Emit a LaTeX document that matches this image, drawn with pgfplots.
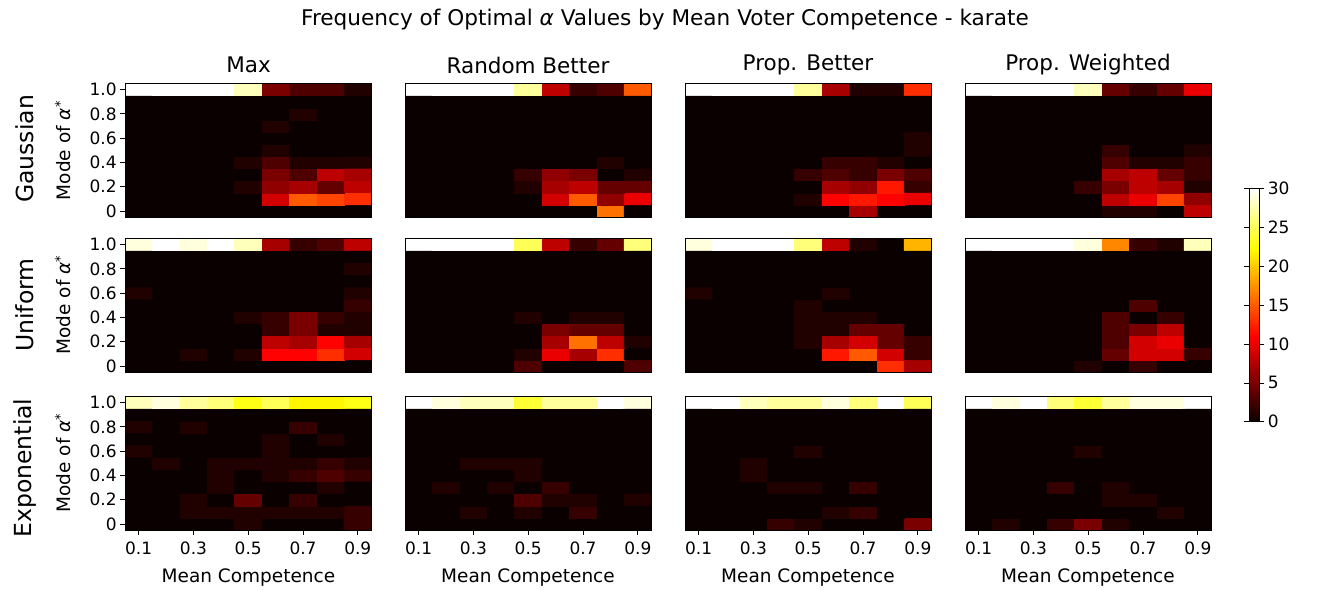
\documentclass[border=0pt]{standalone}
\usepackage{fontspec}
\setmainfont{DejaVu Sans}
\usepackage{pgfplots}
\pgfplotsset{compat=1.18}
\definecolor{hotzero}{rgb}{0.0416,0,0}
\pgfplotsset{
  colormap={mplhot}{rgb(0pt)=(0.0416,0,0); rgb(36.5079pt)=(1,0,0); rgb(74.6032pt)=(1,1,0); rgb(100pt)=(1,1,1)},
  hm/.style={
    scale only axis, width=246.5bp, height=133.5bp,
    anchor=south west, axis on top,
    axis background/.style={fill=hotzero},
    xmin=0.05, xmax=0.95, ymin=-0.05, ymax=1.05,
    colormap name=mplhot, point meta min=0, point meta max=30,
    axis line style={black, line width=0.8bp},
    tick align=outside, major tick length=4.9bp,
    tick style={black, line width=0.8bp},
    xtick pos=bottom, ytick pos=left,
    xtick=\empty, ytick=\empty,
    /pgf/number format/assume math mode=true,
    tick label style={font=\fontsize{17bp}{20bp}\selectfont},
    xticklabel style={yshift=-3bp},
  },
  ylab/.style={ytick={0,0.2,0.4,0.6,0.8,1.0}, yticklabels={0,0.2,0.4,0.6,0.8,1.0}},
  xlab/.style={xtick={0.1,0.3,0.5,0.7,0.9}, xticklabels={0.1,0.3,0.5,0.7,0.9}},
  hmplot/.style={matrix plot*, mesh/cols=9, point meta=explicit},
  table/hmtab/.style={x index=0, y index=1, meta index=2, header=false, row sep=\\},
}
\newcommand{\tfont}{\fontsize{21.6bp}{25bp}\selectfont}
\newcommand{\cfont}{\fontsize{21.5bp}{25bp}\selectfont}
\newcommand{\lfont}{\fontsize{18.5bp}{21bp}\selectfont}
\newcommand{\rfont}{\fontsize{23.5bp}{27bp}\selectfont}
\begin{document}
\begin{tikzpicture}
\path[use as bounding box] (0,0) rectangle (1329bp,590bp);
% ===== Row 1: Gaussian =====
\begin{axis}[hm, ylab, at={(125bp,373bp)}]
\addplot[hmplot] table[hmtab] {
0.1 0 0\\0.2 0 0\\0.3 0 0\\0.4 0 0\\0.5 0 0\\0.6 0 0\\0.7 0 0\\0.8 0 0\\0.9 0 0\\
0.1 0.1 0\\0.2 0.1 0\\0.3 0.1 0\\0.4 0.1 0\\0.5 0.1 0\\0.6 0.1 9\\0.7 0.1 15\\0.8 0.1 14\\0.9 0.1 13\\
0.1 0.2 0\\0.2 0.2 0\\0.3 0.2 0\\0.4 0.2 0\\0.5 0.2 1\\0.6 0.2 6\\0.7 0.2 7\\0.8 0.2 4\\0.9 0.2 8\\
0.1 0.3 0\\0.2 0.3 0\\0.3 0.3 0\\0.4 0.3 0\\0.5 0.3 0\\0.6 0.3 5\\0.7 0.3 3\\0.8 0.3 8\\0.9 0.3 7\\
0.1 0.4 0\\0.2 0.4 0\\0.3 0.4 0\\0.4 0.4 0\\0.5 0.4 1\\0.6 0.4 3\\0.7 0.4 1\\0.8 0.4 1\\0.9 0.4 1\\
0.1 0.5 0\\0.2 0.5 0\\0.3 0.5 0\\0.4 0.5 0\\0.5 0.5 0\\0.6 0.5 1\\0.7 0.5 0\\0.8 0.5 0\\0.9 0.5 0\\
0.1 0.6 0\\0.2 0.6 0\\0.3 0.6 0\\0.4 0.6 0\\0.5 0.6 0\\0.6 0.6 0\\0.7 0.6 0\\0.8 0.6 0\\0.9 0.6 0\\
0.1 0.7 0\\0.2 0.7 0\\0.3 0.7 0\\0.4 0.7 0\\0.5 0.7 0\\0.6 0.7 1\\0.7 0.7 0\\0.8 0.7 0\\0.9 0.7 0\\
0.1 0.8 0\\0.2 0.8 0\\0.3 0.8 0\\0.4 0.8 0\\0.5 0.8 0\\0.6 0.8 0\\0.7 0.8 1\\0.8 0.8 0\\0.9 0.8 0\\
0.1 0.9 0\\0.2 0.9 0\\0.3 0.9 0\\0.4 0.9 0\\0.5 0.9 0\\0.6 0.9 0\\0.7 0.9 0\\0.8 0.9 0\\0.9 0.9 0\\
0.1 1.0 30\\0.2 1.0 30\\0.3 1.0 30\\0.4 1.0 30\\0.5 1.0 28\\0.6 1.0 5\\0.7 1.0 3\\0.8 1.0 3\\0.9 1.0 1\\
};
\end{axis}
\begin{axis}[hm, at={(405bp,373bp)}]
\addplot[hmplot] table[hmtab] {
0.1 0 0\\0.2 0 0\\0.3 0 0\\0.4 0 0\\0.5 0 0\\0.6 0 0\\0.7 0 0\\0.8 0 16\\0.9 0 0\\
0.1 0.1 0\\0.2 0.1 0\\0.3 0.1 0\\0.4 0.1 0\\0.5 0.1 0\\0.6 0.1 9\\0.7 0.1 15\\0.8 0.1 6\\0.9 0.1 10\\
0.1 0.2 0\\0.2 0.2 0\\0.3 0.2 0\\0.4 0.2 0\\0.5 0.2 1\\0.6 0.2 7\\0.7 0.2 8\\0.8 0.2 4\\0.9 0.2 4\\
0.1 0.3 0\\0.2 0.3 0\\0.3 0.3 0\\0.4 0.3 0\\0.5 0.3 2\\0.6 0.3 6\\0.7 0.3 5\\0.8 0.3 0\\0.9 0.3 1\\
0.1 0.4 0\\0.2 0.4 0\\0.3 0.4 0\\0.4 0.4 0\\0.5 0.4 0\\0.6 0.4 0\\0.7 0.4 0\\0.8 0.4 1\\0.9 0.4 0\\
0.1 0.5 0\\0.2 0.5 0\\0.3 0.5 0\\0.4 0.5 0\\0.5 0.5 0\\0.6 0.5 0\\0.7 0.5 0\\0.8 0.5 0\\0.9 0.5 0\\
0.1 0.6 0\\0.2 0.6 0\\0.3 0.6 0\\0.4 0.6 0\\0.5 0.6 0\\0.6 0.6 0\\0.7 0.6 0\\0.8 0.6 0\\0.9 0.6 0\\
0.1 0.7 0\\0.2 0.7 0\\0.3 0.7 0\\0.4 0.7 0\\0.5 0.7 0\\0.6 0.7 0\\0.7 0.7 0\\0.8 0.7 0\\0.9 0.7 0\\
0.1 0.8 0\\0.2 0.8 0\\0.3 0.8 0\\0.4 0.8 0\\0.5 0.8 0\\0.6 0.8 0\\0.7 0.8 0\\0.8 0.8 0\\0.9 0.8 0\\
0.1 0.9 0\\0.2 0.9 0\\0.3 0.9 0\\0.4 0.9 0\\0.5 0.9 0\\0.6 0.9 0\\0.7 0.9 0\\0.8 0.9 0\\0.9 0.9 0\\
0.1 1.0 30\\0.2 1.0 30\\0.3 1.0 30\\0.4 1.0 30\\0.5 1.0 27\\0.6 1.0 8\\0.7 1.0 2\\0.8 1.0 3\\0.9 1.0 15\\
};
\end{axis}
\begin{axis}[hm, at={(685bp,373bp)}]
\addplot[hmplot] table[hmtab] {
0.1 0 0\\0.2 0 0\\0.3 0 0\\0.4 0 0\\0.5 0 0\\0.6 0 0\\0.7 0 7\\0.8 0 0\\0.9 0 0\\
0.1 0.1 0\\0.2 0.1 0\\0.3 0.1 0\\0.4 0.1 0\\0.5 0.1 1\\0.6 0.1 11\\0.7 0.1 12\\0.8 0.1 11\\0.9 0.1 10\\
0.1 0.2 0\\0.2 0.2 0\\0.3 0.2 0\\0.4 0.2 0\\0.5 0.2 0\\0.6 0.2 7\\0.7 0.2 6\\0.8 0.2 12\\0.9 0.2 2\\
0.1 0.3 0\\0.2 0.3 0\\0.3 0.3 0\\0.4 0.3 0\\0.5 0.3 2\\0.6 0.3 3\\0.7 0.3 2\\0.8 0.3 5\\0.9 0.3 3\\
0.1 0.4 0\\0.2 0.4 0\\0.3 0.4 0\\0.4 0.4 0\\0.5 0.4 0\\0.6 0.4 2\\0.7 0.4 2\\0.8 0.4 1\\0.9 0.4 0\\
0.1 0.5 0\\0.2 0.5 0\\0.3 0.5 0\\0.4 0.5 0\\0.5 0.5 0\\0.6 0.5 0\\0.7 0.5 0\\0.8 0.5 0\\0.9 0.5 1\\
0.1 0.6 0\\0.2 0.6 0\\0.3 0.6 0\\0.4 0.6 0\\0.5 0.6 0\\0.6 0.6 0\\0.7 0.6 0\\0.8 0.6 0\\0.9 0.6 1\\
0.1 0.7 0\\0.2 0.7 0\\0.3 0.7 0\\0.4 0.7 0\\0.5 0.7 0\\0.6 0.7 0\\0.7 0.7 0\\0.8 0.7 0\\0.9 0.7 0\\
0.1 0.8 0\\0.2 0.8 0\\0.3 0.8 0\\0.4 0.8 0\\0.5 0.8 0\\0.6 0.8 0\\0.7 0.8 0\\0.8 0.8 0\\0.9 0.8 0\\
0.1 0.9 0\\0.2 0.9 0\\0.3 0.9 0\\0.4 0.9 0\\0.5 0.9 0\\0.6 0.9 0\\0.7 0.9 0\\0.8 0.9 0\\0.9 0.9 0\\
0.1 1.0 30\\0.2 1.0 30\\0.3 1.0 30\\0.4 1.0 30\\0.5 1.0 27\\0.6 1.0 7\\0.7 1.0 1\\0.8 1.0 1\\0.9 1.0 13\\
};
\end{axis}
\begin{axis}[hm, at={(965bp,373bp)}]
\addplot[hmplot] table[hmtab] {
0.1 0 0\\0.2 0 0\\0.3 0 0\\0.4 0 0\\0.5 0 0\\0.6 0 1\\0.7 0 1\\0.8 0 0\\0.9 0 8\\
0.1 0.1 0\\0.2 0.1 0\\0.3 0.1 0\\0.4 0.1 0\\0.5 0.1 0\\0.6 0.1 8\\0.7 0.1 10\\0.8 0.1 14\\0.9 0.1 6\\
0.1 0.2 0\\0.2 0.2 0\\0.3 0.2 0\\0.4 0.2 0\\0.5 0.2 2\\0.6 0.2 5\\0.7 0.2 8\\0.8 0.2 7\\0.9 0.2 1\\
0.1 0.3 0\\0.2 0.3 0\\0.3 0.3 0\\0.4 0.3 0\\0.5 0.3 0\\0.6 0.3 7\\0.7 0.3 8\\0.8 0.3 4\\0.9 0.3 2\\
0.1 0.4 0\\0.2 0.4 0\\0.3 0.4 0\\0.4 0.4 0\\0.5 0.4 0\\0.6 0.4 3\\0.7 0.4 1\\0.8 0.4 1\\0.9 0.4 2\\
0.1 0.5 0\\0.2 0.5 0\\0.3 0.5 0\\0.4 0.5 0\\0.5 0.5 0\\0.6 0.5 2\\0.7 0.5 0\\0.8 0.5 0\\0.9 0.5 1\\
0.1 0.6 0\\0.2 0.6 0\\0.3 0.6 0\\0.4 0.6 0\\0.5 0.6 0\\0.6 0.6 0\\0.7 0.6 0\\0.8 0.6 0\\0.9 0.6 0\\
0.1 0.7 0\\0.2 0.7 0\\0.3 0.7 0\\0.4 0.7 0\\0.5 0.7 0\\0.6 0.7 0\\0.7 0.7 0\\0.8 0.7 0\\0.9 0.7 0\\
0.1 0.8 0\\0.2 0.8 0\\0.3 0.8 0\\0.4 0.8 0\\0.5 0.8 0\\0.6 0.8 0\\0.7 0.8 0\\0.8 0.8 0\\0.9 0.8 0\\
0.1 0.9 0\\0.2 0.9 0\\0.3 0.9 0\\0.4 0.9 0\\0.5 0.9 0\\0.6 0.9 0\\0.7 0.9 0\\0.8 0.9 0\\0.9 0.9 0\\
0.1 1.0 30\\0.2 1.0 30\\0.3 1.0 30\\0.4 1.0 30\\0.5 1.0 28\\0.6 1.0 4\\0.7 1.0 2\\0.8 1.0 4\\0.9 1.0 10\\
};
\end{axis}
% ===== Row 2: Uniform =====
\begin{axis}[hm, ylab, at={(125bp,218bp)}]
\addplot[hmplot] table[hmtab] {
0.1 0 0\\0.2 0 0\\0.3 0 0\\0.4 0 0\\0.5 0 0\\0.6 0 0\\0.7 0 0\\0.8 0 0\\0.9 0 0\\
0.1 0.1 0\\0.2 0.1 0\\0.3 0.1 1\\0.4 0.1 0\\0.5 0.1 1\\0.6 0.1 11\\0.7 0.1 11\\0.8 0.1 13\\0.9 0.1 9\\
0.1 0.2 0\\0.2 0.2 0\\0.3 0.2 0\\0.4 0.2 0\\0.5 0.2 0\\0.6 0.2 8\\0.7 0.2 7\\0.8 0.2 11\\0.9 0.2 7\\
0.1 0.3 0\\0.2 0.3 0\\0.3 0.3 0\\0.4 0.3 0\\0.5 0.3 0\\0.6 0.3 2\\0.7 0.3 5\\0.8 0.3 1\\0.9 0.3 1\\
0.1 0.4 0\\0.2 0.4 0\\0.3 0.4 0\\0.4 0.4 0\\0.5 0.4 1\\0.6 0.4 2\\0.7 0.4 5\\0.8 0.4 2\\0.9 0.4 1\\
0.1 0.5 0\\0.2 0.5 0\\0.3 0.5 0\\0.4 0.5 0\\0.5 0.5 0\\0.6 0.5 0\\0.7 0.5 0\\0.8 0.5 0\\0.9 0.5 2\\
0.1 0.6 1\\0.2 0.6 0\\0.3 0.6 0\\0.4 0.6 0\\0.5 0.6 0\\0.6 0.6 0\\0.7 0.6 0\\0.8 0.6 0\\0.9 0.6 1\\
0.1 0.7 0\\0.2 0.7 0\\0.3 0.7 0\\0.4 0.7 0\\0.5 0.7 0\\0.6 0.7 0\\0.7 0.7 0\\0.8 0.7 0\\0.9 0.7 0\\
0.1 0.8 0\\0.2 0.8 0\\0.3 0.8 0\\0.4 0.8 0\\0.5 0.8 0\\0.6 0.8 0\\0.7 0.8 0\\0.8 0.8 0\\0.9 0.8 1\\
0.1 0.9 0\\0.2 0.9 0\\0.3 0.9 0\\0.4 0.9 0\\0.5 0.9 0\\0.6 0.9 0\\0.7 0.9 0\\0.8 0.9 0\\0.9 0.9 0\\
0.1 1.0 29\\0.2 1.0 30\\0.3 1.0 29\\0.4 1.0 30\\0.5 1.0 28\\0.6 1.0 7\\0.7 1.0 2\\0.8 1.0 3\\0.9 1.0 8\\
};
\end{axis}
\begin{axis}[hm, at={(405bp,218bp)}]
\addplot[hmplot] table[hmtab] {
0.1 0 0\\0.2 0 0\\0.3 0 0\\0.4 0 0\\0.5 0 3\\0.6 0 0\\0.7 0 0\\0.8 0 0\\0.9 0 3\\
0.1 0.1 0\\0.2 0.1 0\\0.3 0.1 0\\0.4 0.1 0\\0.5 0.1 1\\0.6 0.1 10\\0.7 0.1 7\\0.8 0.1 13\\0.9 0.1 0\\
0.1 0.2 0\\0.2 0.2 0\\0.3 0.2 0\\0.4 0.2 0\\0.5 0.2 0\\0.6 0.2 7\\0.7 0.2 16\\0.8 0.2 8\\0.9 0.2 1\\
0.1 0.3 0\\0.2 0.3 0\\0.3 0.3 0\\0.4 0.3 0\\0.5 0.3 0\\0.6 0.3 5\\0.7 0.3 4\\0.8 0.3 4\\0.9 0.3 0\\
0.1 0.4 0\\0.2 0.4 0\\0.3 0.4 0\\0.4 0.4 0\\0.5 0.4 1\\0.6 0.4 0\\0.7 0.4 1\\0.8 0.4 1\\0.9 0.4 0\\
0.1 0.5 0\\0.2 0.5 0\\0.3 0.5 0\\0.4 0.5 0\\0.5 0.5 0\\0.6 0.5 0\\0.7 0.5 0\\0.8 0.5 0\\0.9 0.5 0\\
0.1 0.6 0\\0.2 0.6 0\\0.3 0.6 0\\0.4 0.6 0\\0.5 0.6 0\\0.6 0.6 0\\0.7 0.6 0\\0.8 0.6 0\\0.9 0.6 0\\
0.1 0.7 0\\0.2 0.7 0\\0.3 0.7 0\\0.4 0.7 0\\0.5 0.7 0\\0.6 0.7 0\\0.7 0.7 0\\0.8 0.7 0\\0.9 0.7 0\\
0.1 0.8 0\\0.2 0.8 0\\0.3 0.8 0\\0.4 0.8 0\\0.5 0.8 0\\0.6 0.8 0\\0.7 0.8 0\\0.8 0.8 0\\0.9 0.8 0\\
0.1 0.9 0\\0.2 0.9 0\\0.3 0.9 0\\0.4 0.9 0\\0.5 0.9 0\\0.6 0.9 0\\0.7 0.9 0\\0.8 0.9 0\\0.9 0.9 0\\
0.1 1.0 30\\0.2 1.0 30\\0.3 1.0 30\\0.4 1.0 30\\0.5 1.0 25\\0.6 1.0 8\\0.7 1.0 2\\0.8 1.0 4\\0.9 1.0 26\\
};
\end{axis}
\begin{axis}[hm, at={(685bp,218bp)}]
\addplot[hmplot] table[hmtab] {
0.1 0 0\\0.2 0 0\\0.3 0 0\\0.4 0 0\\0.5 0 0\\0.6 0 0\\0.7 0 0\\0.8 0 13\\0.9 0 7\\
0.1 0.1 0\\0.2 0.1 0\\0.3 0.1 0\\0.4 0.1 0\\0.5 0.1 0\\0.6 0.1 12\\0.7 0.1 15\\0.8 0.1 9\\0.9 0.1 2\\
0.1 0.2 0\\0.2 0.2 0\\0.3 0.2 0\\0.4 0.2 0\\0.5 0.2 1\\0.6 0.2 7\\0.7 0.2 9\\0.8 0.2 4\\0.9 0.2 2\\
0.1 0.3 0\\0.2 0.3 0\\0.3 0.3 0\\0.4 0.3 0\\0.5 0.3 1\\0.6 0.3 1\\0.7 0.3 4\\0.8 0.3 4\\0.9 0.3 0\\
0.1 0.4 0\\0.2 0.4 0\\0.3 0.4 0\\0.4 0.4 0\\0.5 0.4 1\\0.6 0.4 1\\0.7 0.4 1\\0.8 0.4 0\\0.9 0.4 0\\
0.1 0.5 0\\0.2 0.5 0\\0.3 0.5 0\\0.4 0.5 0\\0.5 0.5 1\\0.6 0.5 0\\0.7 0.5 0\\0.8 0.5 0\\0.9 0.5 0\\
0.1 0.6 1\\0.2 0.6 0\\0.3 0.6 0\\0.4 0.6 0\\0.5 0.6 0\\0.6 0.6 1\\0.7 0.6 0\\0.8 0.6 0\\0.9 0.6 0\\
0.1 0.7 0\\0.2 0.7 0\\0.3 0.7 0\\0.4 0.7 0\\0.5 0.7 0\\0.6 0.7 0\\0.7 0.7 0\\0.8 0.7 0\\0.9 0.7 0\\
0.1 0.8 0\\0.2 0.8 0\\0.3 0.8 0\\0.4 0.8 0\\0.5 0.8 0\\0.6 0.8 0\\0.7 0.8 0\\0.8 0.8 0\\0.9 0.8 0\\
0.1 0.9 0\\0.2 0.9 0\\0.3 0.9 0\\0.4 0.9 0\\0.5 0.9 0\\0.6 0.9 0\\0.7 0.9 0\\0.8 0.9 0\\0.9 0.9 0\\
0.1 1.0 29\\0.2 1.0 30\\0.3 1.0 30\\0.4 1.0 30\\0.5 1.0 26\\0.6 1.0 8\\0.7 1.0 1\\0.8 1.0 0\\0.9 1.0 19\\
};
\end{axis}
\begin{axis}[hm, at={(965bp,218bp)},
  colorbar,
  colorbar style={
    at={(parent axis.east)}, anchor=west, xshift=29bp,
    scale only axis, width=10.5bp, height=233bp,
    ytick={0,5,10,15,20,25,30}, yticklabels={0,5,10,15,20,25,30},
    yticklabel pos=right, tick align=outside, major tick length=4.9bp,
    tick style={black, line width=0.8bp},
    axis line style={black, line width=0.8bp},
    tick label style={font=\fontsize{17bp}{20bp}\selectfont},
  }]
\addplot[hmplot] table[hmtab] {
0.1 0 0\\0.2 0 0\\0.3 0 0\\0.4 0 0\\0.5 0 1\\0.6 0 0\\0.7 0 2\\0.8 0 0\\0.9 0 0\\
0.1 0.1 0\\0.2 0.1 0\\0.3 0.1 0\\0.4 0.1 0\\0.5 0.1 0\\0.6 0.1 4\\0.7 0.1 9\\0.8 0.1 9\\0.9 0.1 2\\
0.1 0.2 0\\0.2 0.2 0\\0.3 0.2 0\\0.4 0.2 0\\0.5 0.2 0\\0.6 0.2 3\\0.7 0.2 9\\0.8 0.2 10\\0.9 0.2 0\\
0.1 0.3 0\\0.2 0.3 0\\0.3 0.3 0\\0.4 0.3 0\\0.5 0.3 0\\0.6 0.3 3\\0.7 0.3 5\\0.8 0.3 8\\0.9 0.3 0\\
0.1 0.4 0\\0.2 0.4 0\\0.3 0.4 0\\0.4 0.4 0\\0.5 0.4 0\\0.6 0.4 3\\0.7 0.4 0\\0.8 0.4 2\\0.9 0.4 0\\
0.1 0.5 0\\0.2 0.5 0\\0.3 0.5 0\\0.4 0.5 0\\0.5 0.5 0\\0.6 0.5 0\\0.7 0.5 3\\0.8 0.5 0\\0.9 0.5 0\\
0.1 0.6 0\\0.2 0.6 0\\0.3 0.6 0\\0.4 0.6 0\\0.5 0.6 0\\0.6 0.6 0\\0.7 0.6 0\\0.8 0.6 0\\0.9 0.6 0\\
0.1 0.7 0\\0.2 0.7 0\\0.3 0.7 0\\0.4 0.7 0\\0.5 0.7 0\\0.6 0.7 0\\0.7 0.7 0\\0.8 0.7 0\\0.9 0.7 0\\
0.1 0.8 0\\0.2 0.8 0\\0.3 0.8 0\\0.4 0.8 0\\0.5 0.8 0\\0.6 0.8 0\\0.7 0.8 0\\0.8 0.8 0\\0.9 0.8 0\\
0.1 0.9 0\\0.2 0.9 0\\0.3 0.9 0\\0.4 0.9 0\\0.5 0.9 0\\0.6 0.9 0\\0.7 0.9 0\\0.8 0.9 0\\0.9 0.9 0\\
0.1 1.0 30\\0.2 1.0 30\\0.3 1.0 30\\0.4 1.0 30\\0.5 1.0 29\\0.6 1.0 17\\0.7 1.0 2\\0.8 1.0 1\\0.9 1.0 28\\
};
\end{axis}
% ===== Row 3: Exponential =====
\begin{axis}[hm, ylab, xlab, at={(125bp,60bp)}]
\addplot[hmplot] table[hmtab] {
0.1 0 0\\0.2 0 0\\0.3 0 0\\0.4 0 0\\0.5 0 1\\0.6 0 0\\0.7 0 0\\0.8 0 0\\0.9 0 2\\
0.1 0.1 0\\0.2 0.1 0\\0.3 0.1 1\\0.4 0.1 1\\0.5 0.1 1\\0.6 0.1 1\\0.7 0.1 1\\0.8 0.1 1\\0.9 0.1 2\\
0.1 0.2 0\\0.2 0.2 0\\0.3 0.2 1\\0.4 0.2 0\\0.5 0.2 4\\0.6 0.2 0\\0.7 0.2 2\\0.8 0.2 0\\0.9 0.2 0\\
0.1 0.3 0\\0.2 0.3 0\\0.3 0.3 0\\0.4 0.3 1\\0.5 0.3 0\\0.6 0.3 0\\0.7 0.3 0\\0.8 0.3 1\\0.9 0.3 0\\
0.1 0.4 0\\0.2 0.4 0\\0.3 0.4 0\\0.4 0.4 1\\0.5 0.4 0\\0.6 0.4 1\\0.7 0.4 2\\0.8 0.4 3\\0.9 0.4 2\\
0.1 0.5 0\\0.2 0.5 1\\0.3 0.5 0\\0.4 0.5 1\\0.5 0.5 1\\0.6 0.5 1\\0.7 0.5 1\\0.8 0.5 2\\0.9 0.5 1\\
0.1 0.6 1\\0.2 0.6 0\\0.3 0.6 0\\0.4 0.6 0\\0.5 0.6 0\\0.6 0.6 1\\0.7 0.6 0\\0.8 0.6 0\\0.9 0.6 0\\
0.1 0.7 0\\0.2 0.7 0\\0.3 0.7 0\\0.4 0.7 0\\0.5 0.7 0\\0.6 0.7 1\\0.7 0.7 0\\0.8 0.7 1\\0.9 0.7 0\\
0.1 0.8 1\\0.2 0.8 0\\0.3 0.8 1\\0.4 0.8 0\\0.5 0.8 0\\0.6 0.8 0\\0.7 0.8 2\\0.8 0.8 0\\0.9 0.8 0\\
0.1 0.9 0\\0.2 0.9 0\\0.3 0.9 0\\0.4 0.9 0\\0.5 0.9 0\\0.6 0.9 0\\0.7 0.9 0\\0.8 0.9 0\\0.9 0.9 0\\
0.1 1.0 28\\0.2 1.0 29\\0.3 1.0 27\\0.4 1.0 26\\0.5 1.0 23\\0.6 1.0 25\\0.7 1.0 22\\0.8 1.0 22\\0.9 1.0 23\\
};
\end{axis}
\begin{axis}[hm, xlab, at={(405bp,60bp)}]
\addplot[hmplot] table[hmtab] {
0.1 0 0\\0.2 0 0\\0.3 0 0\\0.4 0 0\\0.5 0 0\\0.6 0 0\\0.7 0 0\\0.8 0 0\\0.9 0 0\\
0.1 0.1 0\\0.2 0.1 0\\0.3 0.1 1\\0.4 0.1 0\\0.5 0.1 1\\0.6 0.1 0\\0.7 0.1 2\\0.8 0.1 0\\0.9 0.1 0\\
0.1 0.2 0\\0.2 0.2 0\\0.3 0.2 0\\0.4 0.2 0\\0.5 0.2 3\\0.6 0.2 1\\0.7 0.2 1\\0.8 0.2 0\\0.9 0.2 1\\
0.1 0.3 0\\0.2 0.3 1\\0.3 0.3 0\\0.4 0.3 1\\0.5 0.3 0\\0.6 0.3 2\\0.7 0.3 0\\0.8 0.3 0\\0.9 0.3 0\\
0.1 0.4 0\\0.2 0.4 0\\0.3 0.4 0\\0.4 0.4 0\\0.5 0.4 1\\0.6 0.4 0\\0.7 0.4 0\\0.8 0.4 0\\0.9 0.4 0\\
0.1 0.5 0\\0.2 0.5 0\\0.3 0.5 1\\0.4 0.5 1\\0.5 0.5 1\\0.6 0.5 0\\0.7 0.5 0\\0.8 0.5 0\\0.9 0.5 0\\
0.1 0.6 0\\0.2 0.6 0\\0.3 0.6 0\\0.4 0.6 0\\0.5 0.6 0\\0.6 0.6 0\\0.7 0.6 0\\0.8 0.6 0\\0.9 0.6 0\\
0.1 0.7 0\\0.2 0.7 0\\0.3 0.7 0\\0.4 0.7 0\\0.5 0.7 0\\0.6 0.7 0\\0.7 0.7 0\\0.8 0.7 0\\0.9 0.7 0\\
0.1 0.8 0\\0.2 0.8 0\\0.3 0.8 0\\0.4 0.8 0\\0.5 0.8 0\\0.6 0.8 0\\0.7 0.8 0\\0.8 0.8 0\\0.9 0.8 0\\
0.1 0.9 0\\0.2 0.9 0\\0.3 0.9 0\\0.4 0.9 0\\0.5 0.9 0\\0.6 0.9 0\\0.7 0.9 0\\0.8 0.9 0\\0.9 0.9 0\\
0.1 1.0 30\\0.2 1.0 29\\0.3 1.0 28\\0.4 1.0 28\\0.5 1.0 24\\0.6 1.0 27\\0.7 1.0 27\\0.8 1.0 30\\0.9 1.0 29\\
};
\end{axis}
\begin{axis}[hm, xlab, at={(685bp,60bp)}]
\addplot[hmplot] table[hmtab] {
0.1 0 0\\0.2 0 0\\0.3 0 0\\0.4 0 2\\0.5 0 1\\0.6 0 0\\0.7 0 0\\0.8 0 0\\0.9 0 5\\
0.1 0.1 0\\0.2 0.1 0\\0.3 0.1 0\\0.4 0.1 0\\0.5 0.1 0\\0.6 0.1 1\\0.7 0.1 2\\0.8 0.1 0\\0.9 0.1 0\\
0.1 0.2 0\\0.2 0.2 0\\0.3 0.2 0\\0.4 0.2 0\\0.5 0.2 0\\0.6 0.2 0\\0.7 0.2 0\\0.8 0.2 0\\0.9 0.2 0\\
0.1 0.3 0\\0.2 0.3 0\\0.3 0.3 0\\0.4 0.3 1\\0.5 0.3 1\\0.6 0.3 0\\0.7 0.3 2\\0.8 0.3 0\\0.9 0.3 0\\
0.1 0.4 0\\0.2 0.4 0\\0.3 0.4 1\\0.4 0.4 0\\0.5 0.4 0\\0.6 0.4 0\\0.7 0.4 0\\0.8 0.4 0\\0.9 0.4 0\\
0.1 0.5 0\\0.2 0.5 0\\0.3 0.5 1\\0.4 0.5 0\\0.5 0.5 0\\0.6 0.5 0\\0.7 0.5 0\\0.8 0.5 0\\0.9 0.5 0\\
0.1 0.6 0\\0.2 0.6 0\\0.3 0.6 0\\0.4 0.6 0\\0.5 0.6 1\\0.6 0.6 0\\0.7 0.6 0\\0.8 0.6 0\\0.9 0.6 0\\
0.1 0.7 0\\0.2 0.7 0\\0.3 0.7 0\\0.4 0.7 0\\0.5 0.7 0\\0.6 0.7 0\\0.7 0.7 0\\0.8 0.7 0\\0.9 0.7 0\\
0.1 0.8 0\\0.2 0.8 0\\0.3 0.8 0\\0.4 0.8 0\\0.5 0.8 0\\0.6 0.8 0\\0.7 0.8 0\\0.8 0.8 0\\0.9 0.8 0\\
0.1 0.9 0\\0.2 0.9 0\\0.3 0.9 0\\0.4 0.9 0\\0.5 0.9 0\\0.6 0.9 0\\0.7 0.9 0\\0.8 0.9 0\\0.9 0.9 0\\
0.1 1.0 30\\0.2 1.0 30\\0.3 1.0 28\\0.4 1.0 27\\0.5 1.0 27\\0.6 1.0 29\\0.7 1.0 26\\0.8 1.0 30\\0.9 1.0 25\\
};
\end{axis}
\begin{axis}[hm, xlab, at={(965bp,60bp)}]
\addplot[hmplot] table[hmtab] {
0.1 0 0\\0.2 0 1\\0.3 0 0\\0.4 0 2\\0.5 0 5\\0.6 0 1\\0.7 0 0\\0.8 0 0\\0.9 0 0\\
0.1 0.1 0\\0.2 0.1 0\\0.3 0.1 0\\0.4 0.1 0\\0.5 0.1 0\\0.6 0.1 0\\0.7 0.1 0\\0.8 0.1 1\\0.9 0.1 0\\
0.1 0.2 0\\0.2 0.2 0\\0.3 0.2 0\\0.4 0.2 0\\0.5 0.2 0\\0.6 0.2 1\\0.7 0.2 1\\0.8 0.2 0\\0.9 0.2 0\\
0.1 0.3 0\\0.2 0.3 0\\0.3 0.3 0\\0.4 0.3 2\\0.5 0.3 0\\0.6 0.3 1\\0.7 0.3 0\\0.8 0.3 0\\0.9 0.3 0\\
0.1 0.4 0\\0.2 0.4 0\\0.3 0.4 0\\0.4 0.4 0\\0.5 0.4 0\\0.6 0.4 0\\0.7 0.4 0\\0.8 0.4 0\\0.9 0.4 0\\
0.1 0.5 0\\0.2 0.5 0\\0.3 0.5 0\\0.4 0.5 0\\0.5 0.5 0\\0.6 0.5 0\\0.7 0.5 0\\0.8 0.5 0\\0.9 0.5 0\\
0.1 0.6 0\\0.2 0.6 0\\0.3 0.6 0\\0.4 0.6 0\\0.5 0.6 1\\0.6 0.6 0\\0.7 0.6 0\\0.8 0.6 0\\0.9 0.6 0\\
0.1 0.7 0\\0.2 0.7 0\\0.3 0.7 0\\0.4 0.7 0\\0.5 0.7 0\\0.6 0.7 0\\0.7 0.7 0\\0.8 0.7 0\\0.9 0.7 0\\
0.1 0.8 0\\0.2 0.8 0\\0.3 0.8 0\\0.4 0.8 0\\0.5 0.8 0\\0.6 0.8 0\\0.7 0.8 0\\0.8 0.8 0\\0.9 0.8 0\\
0.1 0.9 0\\0.2 0.9 0\\0.3 0.9 0\\0.4 0.9 0\\0.5 0.9 0\\0.6 0.9 0\\0.7 0.9 0\\0.8 0.9 0\\0.9 0.9 0\\
0.1 1.0 30\\0.2 1.0 29\\0.3 1.0 30\\0.4 1.0 26\\0.5 1.0 24\\0.6 1.0 27\\0.7 1.0 29\\0.8 1.0 29\\0.9 1.0 30\\
};
\end{axis}
% ===== Texts =====
\node[font=\tfont] at (665bp,570bp) {Frequency of Optimal \textit{α} Values by Mean Voter Competence - karate};
\node[font=\cfont] at (248.5bp,525bp) {Max};
\node[font=\cfont] at (528bp,525bp) {Random Better};
\node[font=\cfont] at (808bp,525bp) {Prop. Better};
\node[font=\cfont] at (1088bp,525bp) {Prop. Weighted};
\node[font=\rfont, rotate=90] at (25bp,441bp) {Gaussian};
\node[font=\rfont, rotate=90] at (25bp,285bp) {Uniform};
\node[font=\rfont, rotate=90] at (25bp,122bp) {Exponential};
\node[font=\lfont, rotate=90] at (63bp,439.5bp) {Mode of \textit{α}\textsuperscript{*}};
\node[font=\lfont, rotate=90] at (63bp,285bp) {Mode of \textit{α}\textsuperscript{*}};
\node[font=\lfont, rotate=90] at (63bp,127bp) {Mode of \textit{α}\textsuperscript{*}};
\node[font=\lfont] at (248.5bp,12bp) {Mean Competence};
\node[font=\lfont] at (528bp,12bp) {Mean Competence};
\node[font=\lfont] at (808bp,12bp) {Mean Competence};
\node[font=\lfont] at (1088bp,12bp) {Mean Competence};
\end{tikzpicture}
\end{document}
